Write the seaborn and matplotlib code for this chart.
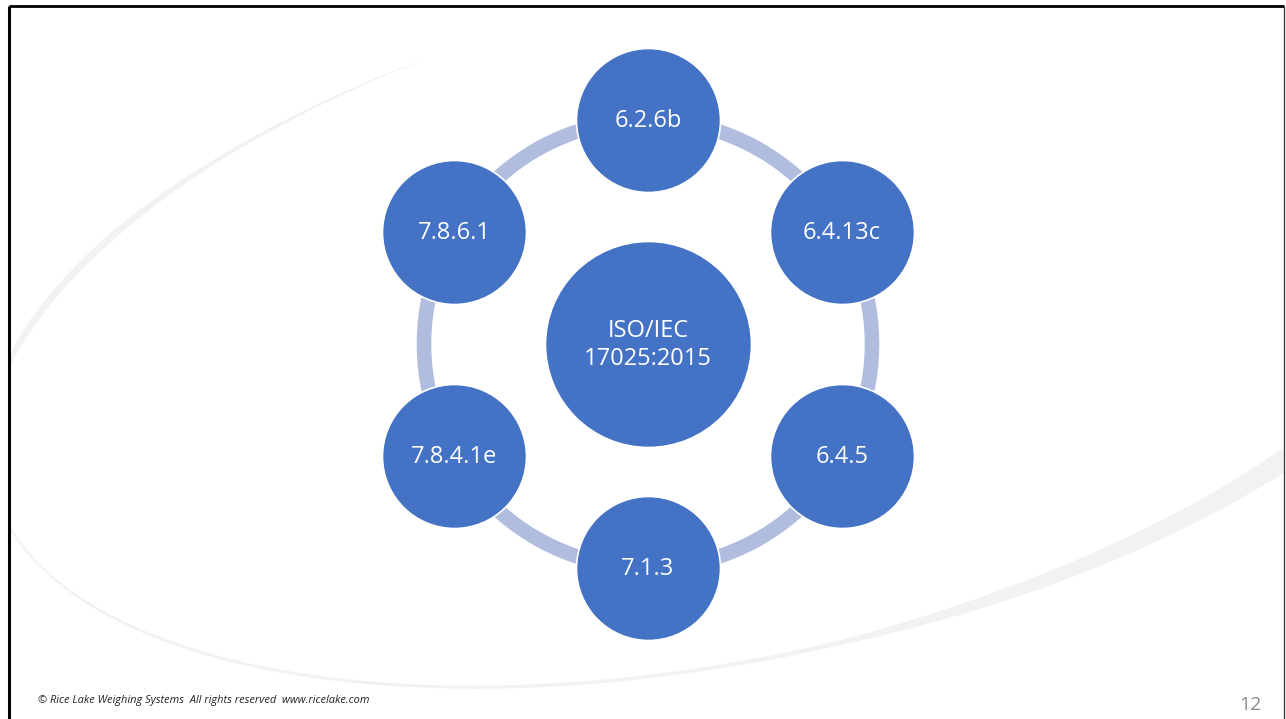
import numpy as np
import pandas as pd
import matplotlib
matplotlib.use("Agg")
import matplotlib.pyplot as plt
from matplotlib.patches import Rectangle
import seaborn as sns

# Daten der Zyklus-Grafik
node_labels = ["6.2.6b", "6.4.13c", "6.4.5", "7.1.3", "7.8.4.1e", "7.8.6.1"]
node_angles = [90, 30, -30, -90, -150, 150]  # Grad, gegen den Uhrzeigersinn
center_label = "ISO/IEC\n17025:2015"
footer_text = "\u00a9 Rice Lake Weighing Systems  All rights reserved  www.ricelake.com"
page_number = "12"

# Hilfspunkte fuer den grauen Hintergrundbogen (Pixel, y nach unten)
swoosh_x = [420, 233, 100, 33, 12, 12, 67, 200, 450, 600, 727, 849, 1000, 1100, 1200, 1285]
swoosh_y = [62, 150, 240, 323, 383, 533, 597, 657, 674, 680, 672, 646, 593, 557, 507, 462]
swoosh_w = [0.5, 4, 7, 7, 4, 2, 2.5, 3, 3, 3.5, 4, 5, 12, 15, 18, 21]

W, H = 1286, 719
CX, CY, R = 648, 344, 224
NODE_R, CENTER_R = 72, 103
BLUE = "#4472C4"
RING = "#B0BDDF"

sns.set_theme(style="white")
plt.rcParams["font.family"] = ["Open Sans", "DejaVu Sans"]

fig = plt.figure(figsize=(W / 100, H / 100), dpi=100)
ax = fig.add_axes([0, 0, 1, 1])
ax.set_xlim(0, W)
ax.set_ylim(H, 0)
ax.axis("off")

# Hintergrundbogen: Ellipse durch die Hilfspunkte anpassen
gx = (np.array(swoosh_x) - 643) / 643
gy = (np.array(swoosh_y) - 360) / 360
M = np.column_stack([gx**2, gx * gy, gy**2, gx, gy, np.ones_like(gx)])
A, B, C, D, E, F = np.linalg.svd(M)[2][-1]
x0, y0 = np.linalg.solve([[2 * A, B], [B, 2 * C]], [-D, -E])
F0 = A * x0**2 + B * x0 * y0 + C * y0**2 + D * x0 + E * y0 + F
th_g = np.arctan2(gy - y0, gx - x0)
u_g = (th_g[0] - th_g) % (2 * np.pi)
u = np.linspace(0, u_g[-1] + 0.08, 800)
th = th_g[0] - u
c, s = np.cos(th), np.sin(th)
r = np.sqrt(-F0 / (A * c**2 + B * c * s + C * s**2))
px = (x0 + r * c) * 643 + 643
py = (y0 + r * s) * 360 + 360
w = np.interp(u, u_g, swoosh_w)
tx, ty = np.gradient(px), np.gradient(py)
norm = np.hypot(tx, ty)
nx, ny = -ty / norm, tx / norm
poly_x = np.concatenate([px + nx * w / 2, (px - nx * w / 2)[::-1]])
poly_y = np.concatenate([py + ny * w / 2, (py - ny * w / 2)[::-1]])
sw = ax.fill(poly_x, poly_y, color="#F2F2F2", lw=0, zorder=0)[0]
sw.set_clip_path(Rectangle((9, 6), 1275, 720, transform=ax.transData))

# Ring
t = np.linspace(0, 2 * np.pi, 400)
ring = pd.DataFrame({"x": CX + R * np.cos(t), "y": CY + R * np.sin(t), "k": np.arange(400)})
sns.lineplot(data=ring, x="x", y="y", sort=False, estimator=None, color=RING,
             lw=10.5, ax=ax, zorder=1)

# Knoten
rad = np.deg2rad(node_angles)
nodes = pd.DataFrame({
    "x": CX + R * np.cos(rad),
    "y": CY - R * np.sin(rad),
    "label": node_labels,
})
sns.scatterplot(data=nodes, x="x", y="y", s=(2 * NODE_R * 0.72) ** 2, color=BLUE,
                edgecolor="white", linewidth=1.2, legend=False, ax=ax, zorder=3)
sns.scatterplot(x=[CX], y=[CY], s=(2 * CENTER_R * 0.72) ** 2, color=BLUE,
                edgecolor="white", linewidth=1.2, legend=False, ax=ax, zorder=3)
ax.set_xlim(0, W)
ax.set_ylim(H, 0)
ax.set_xlabel("")
ax.set_ylabel("")

for _, row in nodes.iterrows():
    ax.text(row["x"], row["y"] + 1, row["label"], ha="center", va="center",
            color="white", fontsize=17, zorder=4)
ax.text(CX, CY + 1, center_label, ha="center", va="center", color="white",
        fontsize=17, linespacing=1.25, zorder=4)

# Fusszeile
ax.text(38, 700, footer_text, ha="left", va="center", fontsize=7.9, style="italic",
        color="#222222")
ax.text(1262, 705, page_number, ha="right", va="center", fontsize=14, color="#8C8C8C")

# Rahmen
ax.plot([9, 9], [6, H], color="black", lw=2.2, solid_capstyle="butt")
ax.plot([9, 1284], [6, 6], color="black", lw=2.0, solid_capstyle="butt")
ax.plot([1284, 1284], [6, H], color="#333333", lw=0.9, solid_capstyle="butt")

fig.savefig("out.png", dpi=100)
